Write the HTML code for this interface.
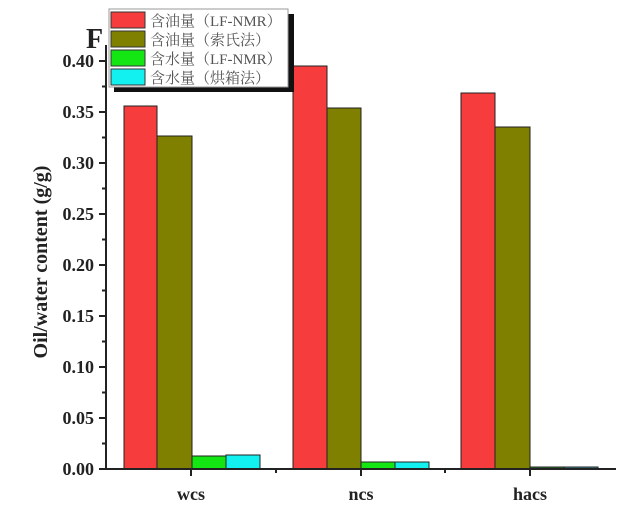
<!DOCTYPE html>
<html><head><meta charset="utf-8"><style>
body{margin:0;background:#fff;}
svg text{font-family:"Liberation Serif","Noto Serif CJK SC",serif;}
</style></head><body>
<svg width="641" height="510" xmlns="http://www.w3.org/2000/svg">
<g stroke="#222" stroke-width="1">
<rect x="124" y="106" width="33" height="363" fill="#f63c3c"/>
<rect x="157" y="136" width="35" height="333" fill="#7f7f00"/>
<rect x="192" y="456" width="34" height="13" fill="#13e613"/>
<rect x="226" y="455" width="34" height="14" fill="#13f0f0"/>
<rect x="293" y="66" width="34" height="403" fill="#f63c3c"/>
<rect x="327" y="108" width="34" height="361" fill="#7f7f00"/>
<rect x="361" y="462" width="34" height="7" fill="#13e613"/>
<rect x="395" y="462" width="34" height="7" fill="#13f0f0"/>
<rect x="461" y="93" width="34" height="376" fill="#f63c3c"/>
<rect x="495" y="127" width="35" height="342" fill="#7f7f00"/>
<rect x="530" y="467" width="34" height="2" fill="#2a7a2a"/>
<rect x="564" y="467" width="34" height="2" fill="#3a8a9a"/>
</g>
<g stroke="#222" stroke-width="2" fill="none">
<line x1="106" y1="45" x2="106" y2="470"/>
<line x1="105" y1="469" x2="616" y2="469"/>
<line x1="99" y1="469" x2="106" y2="469"/><line x1="102" y1="443.5" x2="106" y2="443.5"/>
<line x1="99" y1="418" x2="106" y2="418"/><line x1="102" y1="392.5" x2="106" y2="392.5"/>
<line x1="99" y1="367" x2="106" y2="367"/><line x1="102" y1="341.5" x2="106" y2="341.5"/>
<line x1="99" y1="316" x2="106" y2="316"/><line x1="102" y1="290.5" x2="106" y2="290.5"/>
<line x1="99" y1="265" x2="106" y2="265"/><line x1="102" y1="239.5" x2="106" y2="239.5"/>
<line x1="99" y1="214" x2="106" y2="214"/><line x1="102" y1="188.5" x2="106" y2="188.5"/>
<line x1="99" y1="163" x2="106" y2="163"/><line x1="102" y1="137.5" x2="106" y2="137.5"/>
<line x1="99" y1="112" x2="106" y2="112"/><line x1="102" y1="86.5" x2="106" y2="86.5"/>
<line x1="99" y1="61" x2="106" y2="61"/>
<line x1="191" y1="469" x2="191" y2="476"/><line x1="361" y1="469" x2="361" y2="476"/><line x1="530" y1="469" x2="530" y2="476"/>
<line x1="276" y1="469" x2="276" y2="473"/><line x1="445" y1="469" x2="445" y2="473"/>
</g>
<g font-size="18" font-weight="bold" fill="#222" text-anchor="end">
<text x="94" y="475">0.00</text><text x="94" y="424">0.05</text><text x="94" y="373">0.10</text>
<text x="94" y="322">0.15</text><text x="94" y="271">0.20</text><text x="94" y="220">0.25</text>
<text x="94" y="169">0.30</text><text x="94" y="118">0.35</text><text x="94" y="67">0.40</text>
</g>
<g font-size="18" font-weight="bold" fill="#222" text-anchor="middle">
<text x="191" y="500">wcs</text><text x="361" y="500">ncs</text><text x="530" y="500">hacs</text>
</g>
<text x="0" y="0" font-size="20" font-weight="bold" fill="#222" text-anchor="middle" transform="translate(47,262) rotate(-90)">Oil/water content (g/g)</text>
<text x="86" y="48" font-size="28" font-weight="bold" fill="#222">F</text>
<rect x="114" y="14" width="180" height="78" fill="#111"/>
<rect x="109" y="9" width="179" height="78" fill="#fff" stroke="#999" stroke-width="1"/>
<g stroke="#333" stroke-width="1">
<rect x="111" y="12" width="34" height="16" fill="#f63c3c"/>
<rect x="111" y="31" width="34" height="16" fill="#7f7f00"/>
<rect x="111" y="50" width="34" height="16" fill="#13e613"/>
<rect x="111" y="69" width="34" height="16" fill="#13f0f0"/>
</g>
<g font-size="15" fill="#555">
<text x="150" y="26">含油量（LF-NMR）</text>
<text x="150" y="45">含油量（索氏法）</text>
<text x="150" y="64">含水量（LF-NMR）</text>
<text x="150" y="83">含水量（烘箱法）</text>
</g>
</svg>
</body></html>
